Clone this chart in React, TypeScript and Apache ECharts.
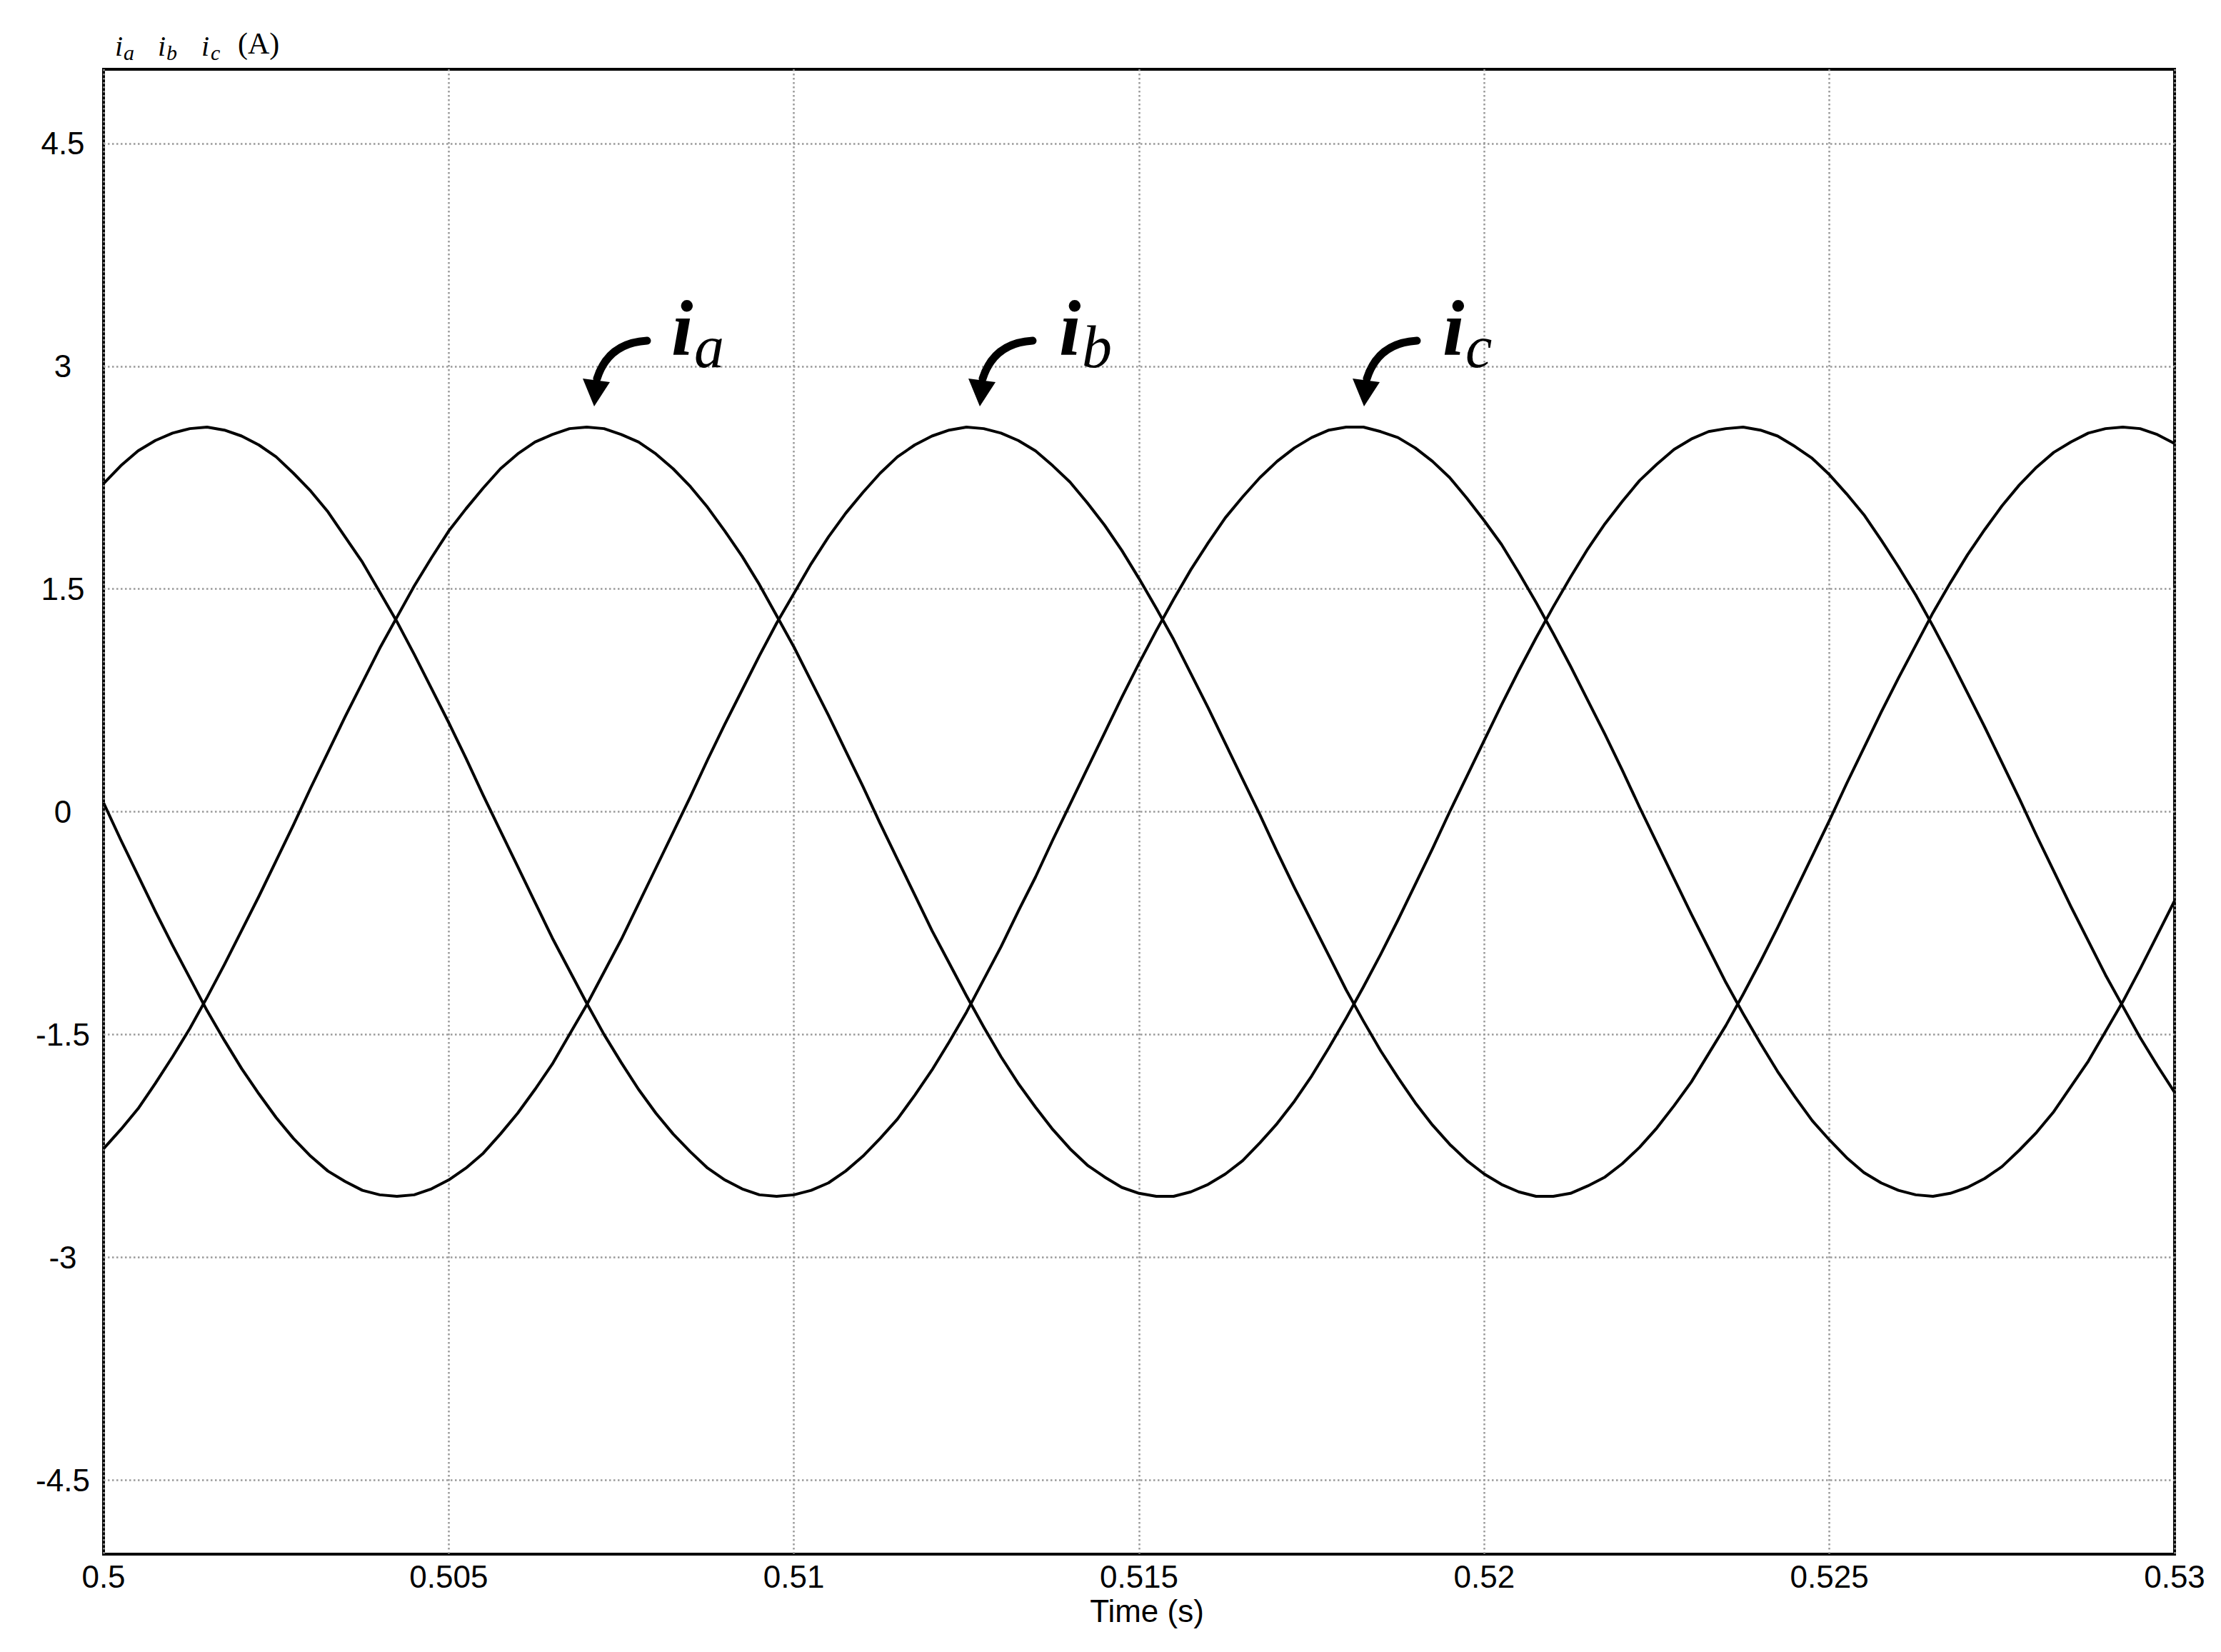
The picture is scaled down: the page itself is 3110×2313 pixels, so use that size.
import React, { useEffect, useRef } from "react";
import * as echarts from "echarts";

// Sampling instants (s)
const times = [
  0.5, 0.50025, 0.5005, 0.50075, 0.501, 0.50125, 0.5015, 0.50175, 0.502, 0.50225,
  0.5025, 0.50275, 0.503, 0.50325, 0.5035, 0.50375, 0.504, 0.50425, 0.5045, 0.50475,
  0.505, 0.50525, 0.5055, 0.50575, 0.506, 0.50625, 0.5065, 0.50675, 0.507, 0.50725,
  0.5075, 0.50775, 0.508, 0.50825, 0.5085, 0.50875, 0.509, 0.50925, 0.5095, 0.50975,
  0.51, 0.51025, 0.5105, 0.51075, 0.511, 0.51125, 0.5115, 0.51175, 0.512, 0.51225,
  0.5125, 0.51275, 0.513, 0.51325, 0.5135, 0.51375, 0.514, 0.51425, 0.5145, 0.51475,
  0.515, 0.51525, 0.5155, 0.51575, 0.516, 0.51625, 0.5165, 0.51675, 0.517, 0.51725,
  0.5175, 0.51775, 0.518, 0.51825, 0.5185, 0.51875, 0.519, 0.51925, 0.5195, 0.51975,
  0.52, 0.52025, 0.5205, 0.52075, 0.521, 0.52125, 0.5215, 0.52175, 0.522, 0.52225,
  0.5225, 0.52275, 0.523, 0.52325, 0.5235, 0.52375, 0.524, 0.52425, 0.5245, 0.52475,
  0.525, 0.52525, 0.5255, 0.52575, 0.526, 0.52625, 0.5265, 0.52675, 0.527, 0.52725,
  0.5275, 0.52775, 0.528, 0.52825, 0.5285, 0.52875, 0.529, 0.52925, 0.5295, 0.52975,
  0.53,
];

// Phase currents (A)
const ia = [
  -2.27, -2.14, -2.0, -1.83, -1.65, -1.46, -1.25, -1.03, -0.8, -0.57,
  -0.33, -0.09, 0.16, 0.4, 0.64, 0.87, 1.1, 1.31, 1.52, 1.71,
  1.89, 2.04, 2.18, 2.31, 2.41, 2.49, 2.54, 2.58, 2.59, 2.58,
  2.54, 2.49, 2.41, 2.31, 2.19, 2.05, 1.89, 1.72, 1.53, 1.32,
  1.11, 0.88, 0.65, 0.41, 0.17, -0.08, -0.32, -0.56, -0.8, -1.02,
  -1.24, -1.45, -1.65, -1.83, -1.99, -2.14, -2.27, -2.38, -2.46, -2.53,
  -2.57, -2.59, -2.59, -2.56, -2.51, -2.44, -2.35, -2.23, -2.1, -1.95,
  -1.78, -1.59, -1.39, -1.18, -0.96, -0.73, -0.49, -0.25, 0.0, 0.24,
  0.48, 0.72, 0.95, 1.17, 1.38, 1.58, 1.77, 1.94, 2.09, 2.23,
  2.34, 2.44, 2.51, 2.56, 2.58, 2.59, 2.57, 2.53, 2.46, 2.38,
  2.27, 2.14, 2.0, 1.83, 1.65, 1.46, 1.25, 1.03, 0.8, 0.57,
  0.33, 0.09, -0.16, -0.4, -0.64, -0.87, -1.1, -1.31, -1.52, -1.71,
  -1.89,
];
const ib = [
  0.06, -0.19, -0.43, -0.67, -0.9, -1.12, -1.34, -1.54, -1.73, -1.9,
  -2.06, -2.2, -2.32, -2.42, -2.49, -2.55, -2.58, -2.59, -2.58, -2.54,
  -2.48, -2.4, -2.3, -2.17, -2.03, -1.87, -1.7, -1.5, -1.3, -1.08,
  -0.86, -0.62, -0.38, -0.14, 0.1, 0.35, 0.59, 0.82, 1.05, 1.27,
  1.47, 1.67, 1.85, 2.01, 2.15, 2.28, 2.39, 2.47, 2.53, 2.57,
  2.59, 2.58, 2.55, 2.5, 2.43, 2.33, 2.22, 2.08, 1.93, 1.76,
  1.57, 1.37, 1.16, 0.93, 0.7, 0.46, 0.22, -0.02, -0.27, -0.51,
  -0.74, -0.97, -1.2, -1.41, -1.61, -1.79, -1.96, -2.11, -2.24, -2.35,
  -2.44, -2.51, -2.56, -2.59, -2.59, -2.57, -2.52, -2.46, -2.37, -2.26,
  -2.13, -1.98, -1.82, -1.63, -1.44, -1.23, -1.01, -0.78, -0.54, -0.3,
  -0.06, 0.19, 0.43, 0.67, 0.9, 1.12, 1.34, 1.54, 1.73, 1.9,
  2.06, 2.2, 2.32, 2.42, 2.49, 2.55, 2.58, 2.59, 2.58, 2.54,
  2.48,
];
const ic = [
  2.21, 2.33, 2.43, 2.5, 2.55, 2.58, 2.59, 2.57, 2.53, 2.47,
  2.39, 2.28, 2.16, 2.02, 1.85, 1.68, 1.48, 1.28, 1.06, 0.83,
  0.6, 0.36, 0.11, -0.13, -0.37, -0.61, -0.85, -1.07, -1.29, -1.5,
  -1.69, -1.87, -2.03, -2.17, -2.29, -2.4, -2.48, -2.54, -2.58, -2.59,
  -2.58, -2.55, -2.5, -2.42, -2.32, -2.2, -2.07, -1.91, -1.74, -1.55,
  -1.35, -1.13, -0.91, -0.67, -0.44, -0.19, 0.05, 0.29, 0.53, 0.77,
  1.0, 1.22, 1.43, 1.63, 1.81, 1.98, 2.12, 2.25, 2.36, 2.45,
  2.52, 2.57, 2.59, 2.59, 2.56, 2.52, 2.45, 2.36, 2.25, 2.11,
  1.96, 1.8, 1.61, 1.41, 1.2, 0.98, 0.75, 0.52, 0.28, 0.03,
  -0.21, -0.45, -0.69, -0.92, -1.15, -1.36, -1.56, -1.75, -1.92, -2.08,
  -2.21, -2.33, -2.43, -2.5, -2.55, -2.58, -2.59, -2.57, -2.53, -2.47,
  -2.39, -2.28, -2.16, -2.02, -1.85, -1.68, -1.48, -1.28, -1.06, -0.83,
  -0.6,
];

const yTicks = [-4.5, -3, -1.5, 0, 1.5, 3, 4.5];
const xMin = 0.5;
const xMax = 0.53;
const xInterval = 0.005;
const yMin = -5;
const yMax = 5;

const seriesNames = ["ia", "ib", "ic"];
const seriesValues = [ia, ib, ic];
const annotationSubs = ["a", "b", "c"];

const SANS = "Liberation Sans";
const SERIF = "Liberation Serif";

function pairs(values: number[]) {
  return times.map((t, i) => [t, values[i]]);
}

function txt(
  x: number,
  y: number,
  text: string,
  size: number,
  italic: boolean,
  bold: boolean
) {
  return {
    type: "text",
    x,
    y,
    z: 100,
    style: {
      text,
      fontFamily: SERIF,
      fontSize: size,
      fontStyle: italic ? "italic" : "normal",
      fontWeight: bold ? "bold" : "normal",
      fill: "#000",
      textAlign: "left",
      textVerticalAlign: "middle",
    },
  };
}

function arrowGraphic(tipX: number, tipY: number) {
  return [
    {
      type: "bezierCurve",
      shape: {
        x1: tipX + 74,
        y1: tipY - 91,
        cpx1: tipX + 20,
        cpy1: tipY - 88,
        x2: tipX + 4,
        y2: tipY - 38,
      },
      style: { stroke: "#000", lineWidth: 11, fill: null, lineCap: "round" },
      z: 100,
    },
    {
      type: "polygon",
      shape: {
        points: [
          [tipX - 16, tipY - 38],
          [tipX + 22, tipY - 33],
          [tipX, tipY + 1],
        ],
      },
      style: { fill: "#000" },
      z: 100,
    },
  ];
}

function labelGraphic(x: number, sub: string) {
  return [txt(x, 460, "i", 110, true, true), txt(x + 32, 485, sub, 84, true, false)];
}

function titleGraphic() {
  const items: any[] = [];
  const pos = [
    [161, 173],
    [221, 233],
    [282, 295],
  ];
  annotationSubs.forEach((s, i) => {
    items.push(txt(pos[i][0], 64, "i", 40, true, false));
    items.push(txt(pos[i][1], 73, s, 30, true, false));
  });
  items.push(txt(333, 61, "(A)", 42, false, false));
  return items;
}

export default function App() {
  const ref = useRef<HTMLDivElement>(null);

  useEffect(() => {
    if (!ref.current) return;
    const chart = echarts.init(ref.current, null, { renderer: "svg" });

    const tips = [832, 1372, 1910];
    const labelXs = [940, 1483, 2020];
    const graphics: any[] = [...titleGraphic()];
    tips.forEach((tx, i) => {
      graphics.push(...arrowGraphic(tx, 568));
      graphics.push(...labelGraphic(labelXs[i], annotationSubs[i]));
    });

    const gridLine = { color: "#999999", width: 2.5, type: [2.5, 3.5] };

    const option: any = {
      animation: false,
      backgroundColor: "#fff",
      grid: {
        left: 145,
        right: 65,
        top: 97,
        bottom: 137,
        show: true,
        borderColor: "#000",
        borderWidth: 4,
        backgroundColor: "transparent",
        containLabel: false,
      },
      xAxis: {
        type: "value",
        min: xMin,
        max: xMax,
        interval: xInterval,
        name: "Time (s)",
        nameLocation: "middle",
        nameGap: 52,
        nameTextStyle: {
          fontFamily: SANS,
          fontSize: 44,
          color: "#000",
          padding: [0, 0, 0, 22],
        },
        axisLine: { show: false },
        axisTick: { show: false },
        axisLabel: {
          fontFamily: SANS,
          fontSize: 44,
          color: "#000",
          margin: 9,
        },
        splitLine: { show: true, lineStyle: gridLine },
      },
      yAxis: {
        type: "value",
        min: yMin,
        max: yMax,
        axisLine: { show: false },
        axisTick: { show: false, customValues: yTicks },
        axisLabel: {
          customValues: yTicks,
          fontFamily: SANS,
          fontSize: 44,
          color: "#000",
          align: "center",
          margin: 57,
        },
        splitLine: { show: true, lineStyle: gridLine },
      },
      series: seriesValues.map((vals, i) => ({
        name: seriesNames[i],
        type: "line",
        data: pairs(vals),
        showSymbol: false,
        smooth: false,
        lineStyle: { color: "#000", width: 4, join: "round" },
        itemStyle: { color: "#000" },
        z: 5,
      })),
      graphic: graphics,
    };

    chart.setOption(option);
    return () => chart.dispose();
  }, []);

  return (
    <div
      ref={ref}
      style={{ position: "fixed", left: 0, top: 0, width: 3110, height: 2313, background: "#fff" }}
    />
  );
}
